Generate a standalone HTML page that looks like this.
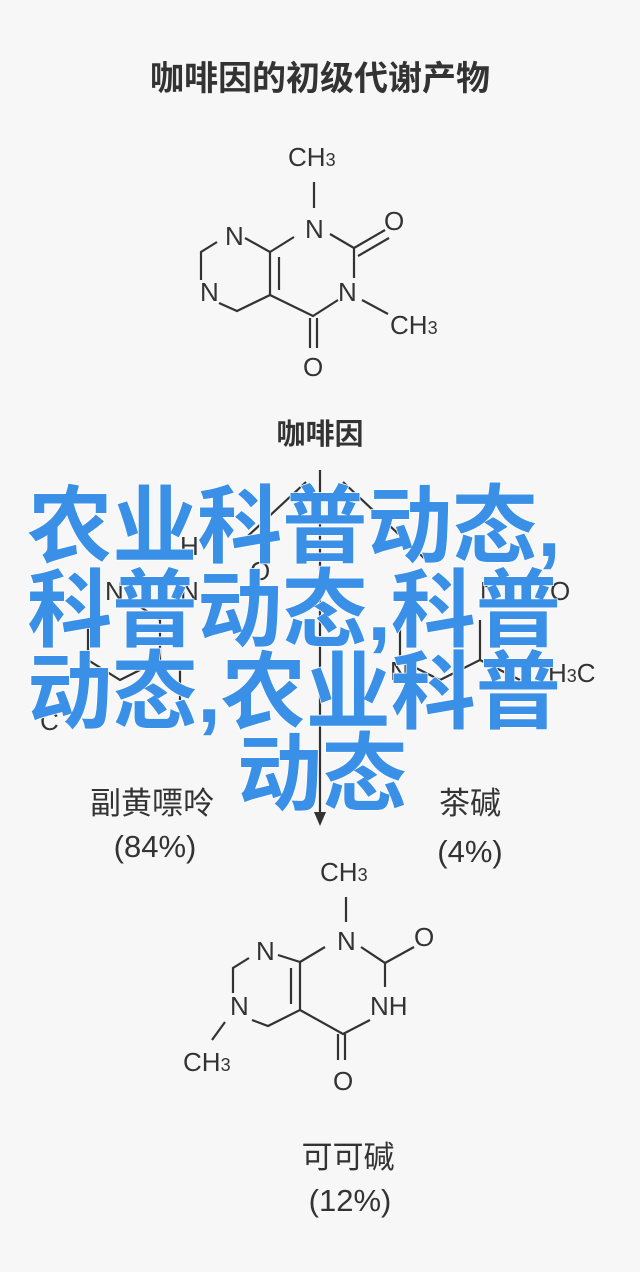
<!DOCTYPE html>
<html><head><meta charset="utf-8"><style>
html,body{margin:0;padding:0;background:#f7f7f7;}
svg{display:block}
.t{font-family:"Liberation Sans","Noto Sans CJK SC",sans-serif;fill:#333;}
.a{font-family:"Liberation Sans",sans-serif;fill:#333;font-size:26px;}
.b{font-family:"Liberation Sans","Noto Sans CJK SC",sans-serif;fill:#3a90e6;font-size:85px;font-weight:bold;stroke:#fff;stroke-width:1.5px;paint-order:stroke;}
line,polyline{stroke:#333;stroke-width:2.2;fill:none}
</style></head><body>
<svg width="640" height="1272" viewBox="0 0 640 1272" xmlns="http://www.w3.org/2000/svg">
<rect width="640" height="1272" fill="#f7f7f7"/>
<text class="t" x="320" y="90" text-anchor="middle" font-size="34" font-weight="bold">咖啡因的初级代谢产物</text>

<!-- top molecule -->
<text class="a" x="288" y="166">CH<tspan font-size="18">3</tspan></text>
<line x1="314" y1="182" x2="314" y2="208"/>
<text class="a" x="305" y="238">N</text>
<text class="a" x="384" y="230">O</text>
<text class="a" x="225" y="245">N</text>
<text class="a" x="200" y="301">N</text>
<text class="a" x="338" y="301">N</text>
<text class="a" x="390" y="334">CH<tspan font-size="18">3</tspan></text>
<text class="a" x="303" y="376">O</text>
<polyline points="217,242 201,252 201,280"/>
<polyline points="219,303 237,311 270,295 270,252 245,238"/>
<line x1="279" y1="290" x2="279" y2="257"/>
<line x1="270" y1="252" x2="294" y2="237"/>
<polyline points="330,234 354,248 354,278"/>
<line x1="354" y1="248" x2="385" y2="230"/>
<line x1="358" y1="256" x2="389" y2="238"/>
<polyline points="338,300 313,316 270,295"/>
<line x1="362" y1="300" x2="388" y2="314"/>
<line x1="310" y1="318" x2="310" y2="348"/>
<line x1="317" y1="318" x2="317" y2="348"/>

<text class="t" x="320" y="444" text-anchor="middle" font-size="29" font-weight="bold">咖啡因</text>

<!-- middle background fragments -->
<line x1="306" y1="482" x2="235" y2="548"/>
<line x1="343" y1="482" x2="424" y2="558"/>
<line x1="320" y1="470" x2="320" y2="815"/>
<polygon points="314,812 326,812 320,826" fill="#333"/>
<text class="a" x="180" y="555">H</text>
<text class="a" x="250" y="580">O</text>
<text class="a" x="105" y="600">N</text>
<text class="a" x="180" y="600">N</text>
<text class="a" x="480" y="600">N</text>
<text class="a" x="550" y="600">O</text>
<text class="a" x="390" y="680">N</text>
<text class="a" x="548" y="682">H<tspan font-size="18">3</tspan>C</text>
<text class="a" x="40" y="730">C</text>
<polyline points="88,620 88,660 120,680 160,660 160,620 130,600"/>
<polyline points="400,620 400,660 440,680 480,660 480,620"/>
<line x1="480" y1="660" x2="520" y2="680"/>
<line x1="180" y1="660" x2="180" y2="700"/>

<!-- blue overlay text -->
<text class="b" x="294" y="556" text-anchor="middle">农业科普动态,</text>
<text class="b" x="294" y="640" text-anchor="middle">科普动态,科普</text>
<text class="b" x="294" y="722" text-anchor="middle">动态,农业科普</text>
<text class="b" x="322" y="804" text-anchor="middle">动态</text>

<text class="t" x="152" y="814" text-anchor="middle" font-size="31">副黄嘌呤</text>
<text class="t" x="155" y="857" text-anchor="middle" font-size="31">(84%)</text>
<text class="t" x="470" y="814" text-anchor="middle" font-size="31">茶碱</text>
<text class="t" x="470" y="862" text-anchor="middle" font-size="31">(4%)</text>

<!-- bottom molecule -->
<text class="a" x="320" y="881">CH<tspan font-size="18">3</tspan></text>
<line x1="346" y1="897" x2="346" y2="922"/>
<text class="a" x="337" y="950">N</text>
<text class="a" x="414" y="946">O</text>
<text class="a" x="256" y="960">N</text>
<text class="a" x="230" y="1015">N</text>
<text class="a" x="370" y="1015">NH</text>
<text class="a" x="183" y="1071">CH<tspan font-size="18">3</tspan></text>
<text class="a" x="333" y="1090">O</text>
<polyline points="249,958 233,968 233,993"/>
<polyline points="252,1020 268,1026 300,1010 300,962 278,955"/>
<line x1="291" y1="1004" x2="291" y2="968"/>
<line x1="300" y1="962" x2="325" y2="947"/>
<polyline points="361,947 385,963 385,987"/>
<line x1="385" y1="963" x2="414" y2="947"/>
<polyline points="370,1020 343,1034 300,1010"/>
<line x1="338" y1="1034" x2="338" y2="1060"/>
<line x1="345" y1="1034" x2="345" y2="1060"/>
<line x1="225" y1="1022" x2="212" y2="1040"/>

<text class="t" x="348" y="1168" text-anchor="middle" font-size="31">可可碱</text>
<text class="t" x="350" y="1211" text-anchor="middle" font-size="31">(12%)</text>
</svg>
</body></html>
